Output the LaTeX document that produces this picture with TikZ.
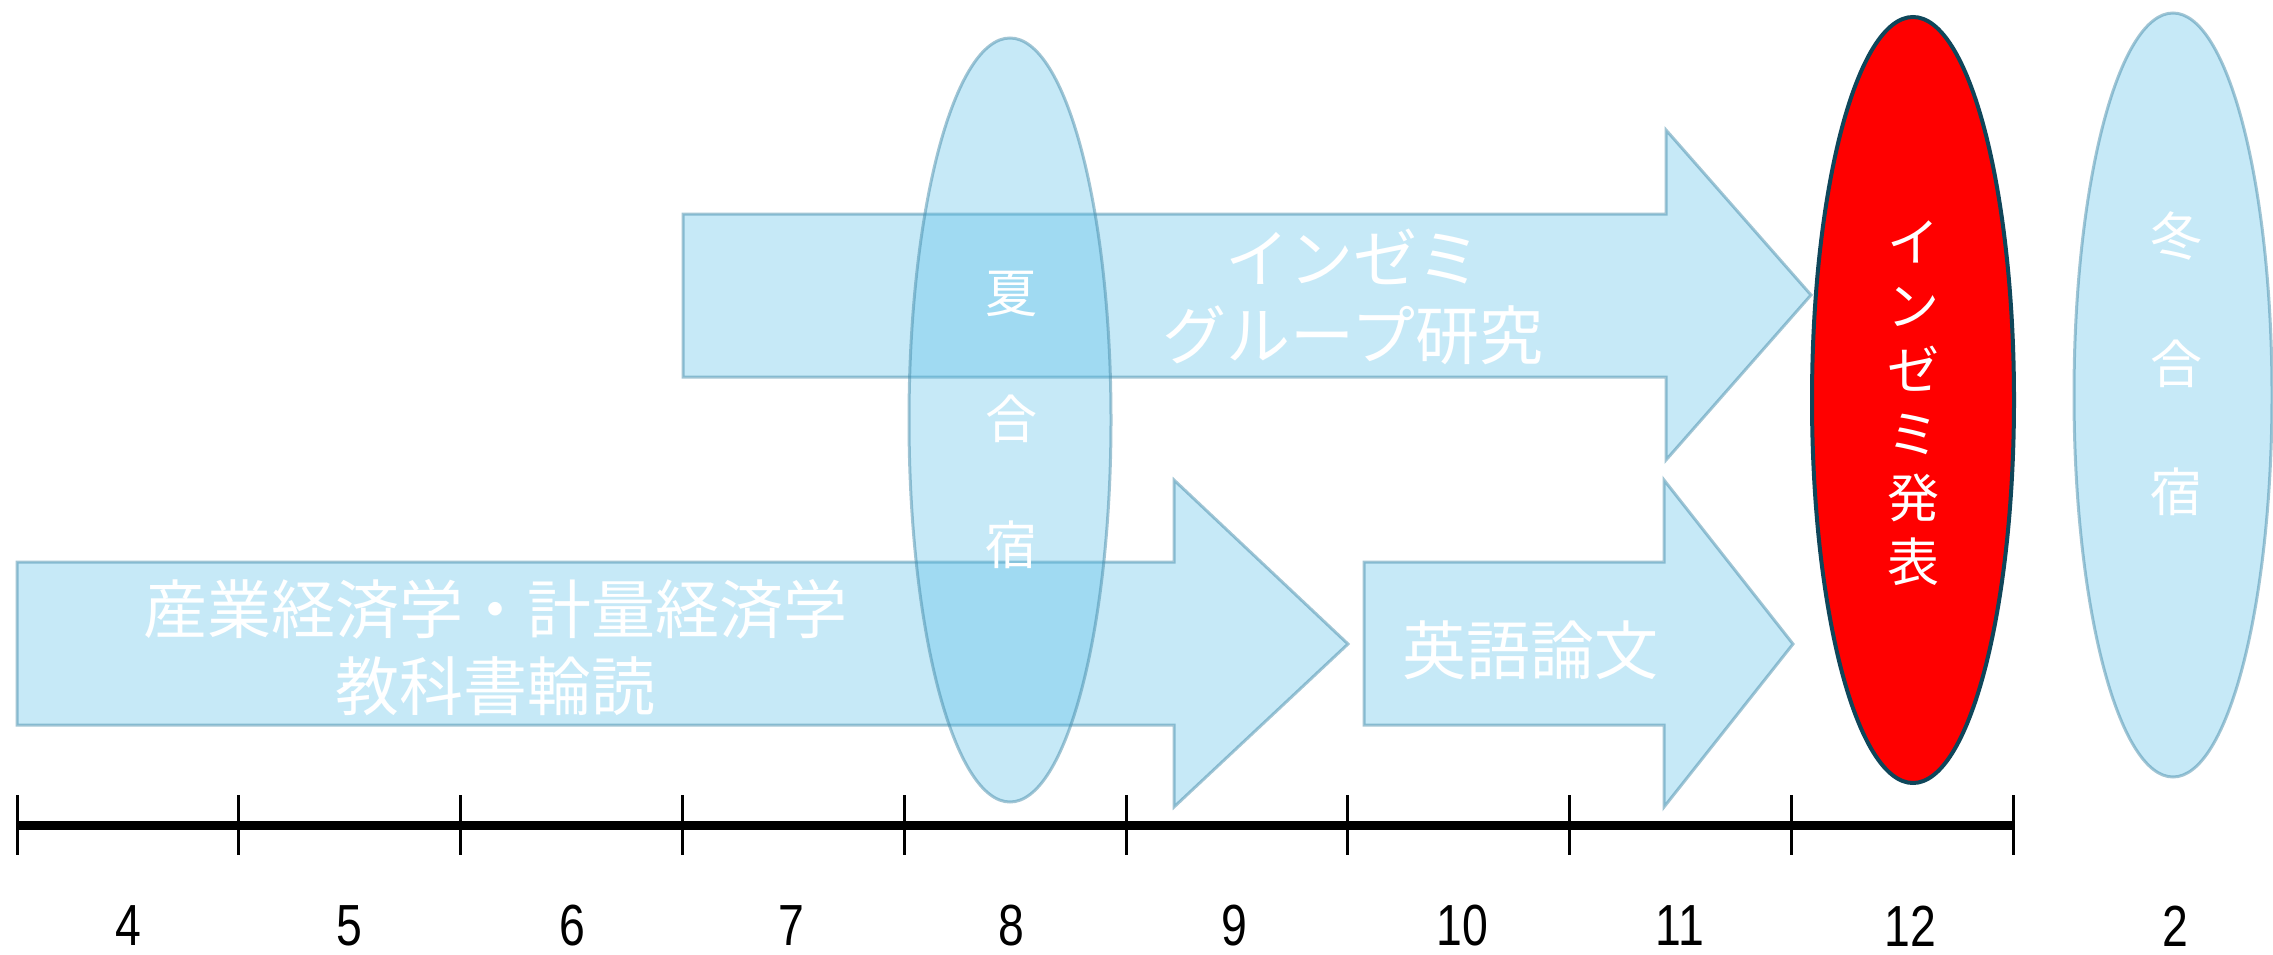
\documentclass[tikz,border=0pt]{standalone}
\usepackage{fontspec}
\newfontfamily\jp{Noto Sans CJK JP}
\newfontfamily\numf{Liberation Sans}
\definecolor{lb}{RGB}{82,188,231}
\definecolor{lbline}{RGB}{70,140,170}
\definecolor{redline}{RGB}{15,70,90}
\tikzset{
  bluebox/.style={fill=lb, fill opacity=0.33, draw=lbline, draw opacity=0.5, line width=3pt, line join=miter},
  redbox/.style={fill=red, draw=redline, line width=4pt},
  jptext/.style={text=white, inner sep=0pt, align=center, font=\fontsize{64}{77}\jp},
  vtext/.style={text=white, inner sep=0pt, align=center, font=\fontsize{52}{#1}\jp},
  month/.style={text=black, inner sep=0pt, font=\fontsize{58}{58}\numf},
  axisline/.style={line width=9pt},
  tickline/.style={line width=3pt}
}
\newcommand{\nar}[1]{\scalebox{0.8}[1]{#1}}
\begin{document}
\begin{tikzpicture}[x=1pt,y=-1pt]
\useasboundingbox (0,0) rectangle (2273,955);
% arrows
\draw[bluebox] (683,214) -- (1666,214) -- (1666,130) -- (1811,295) -- (1666,460) -- (1666,377) -- (683,377) -- cycle;
\draw[bluebox] (17,562) -- (1174,562) -- (1174,480) -- (1348,644) -- (1174,807) -- (1174,725) -- (17,725) -- cycle;
\draw[bluebox] (1364,562) -- (1664,562) -- (1664,480) -- (1793,644) -- (1664,807) -- (1664,725) -- (1364,725) -- cycle;
% ellipses
\draw[bluebox] (1010,420) ellipse [x radius=101, y radius=382];
\draw[redbox] (1913,400) ellipse [x radius=101, y radius=383];
\draw[bluebox] (2173,395) ellipse [x radius=99, y radius=382];
% texts
\node[jptext] (zemi) at (1353,297) {インゼミ\\グループ研究};
\node[jptext] (book) at (495,648) {産業経済学・計量経済学\\教科書輪読};
\node[jptext] (eng) at (1530,650) {英語論文};
\node[vtext=126] (summer) at (1011,420) {夏\\合\\宿};
\node[vtext=64] (pres) at (1913,403) {イ\\ン\\ゼ\\ミ\\発\\表};
\node[vtext=128] (winter) at (2176,364) {冬\\合\\宿};
% axis
\coordinate (axL) at (17,825);
\coordinate (axR) at (2013,825);
\draw[axisline] (axL) -- (axR);
\foreach \i in {0,...,9} {
  \coordinate (tt\i) at ({17+\i*221.8},795);
  \coordinate (tb\i) at ({17+\i*221.8},855);
  \draw[tickline] (tt\i) -- (tb\i);
}
\foreach \m/\x in {4/128,5/349,6/572,7/791,8/1011,9/1234,10/1462,11/1680,12/1910,2/2175} {
  \node[month] (m\m) at (\x,926) {\nar{\m}};
}
\end{tikzpicture}
\end{document}
